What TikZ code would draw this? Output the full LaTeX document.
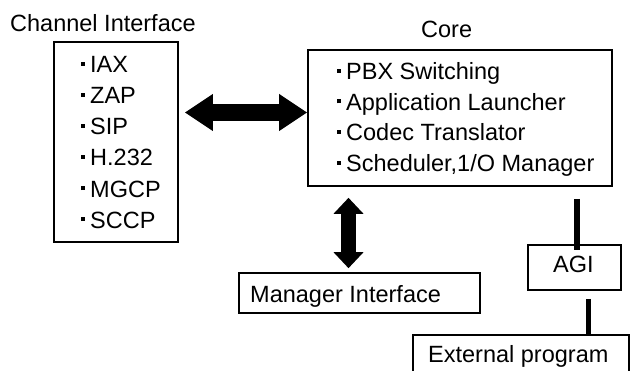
\documentclass[tikz,border=0pt]{standalone}
\usepackage{fontspec}
\setmainfont{Liberation Sans}
\usetikzlibrary{arrows.meta,calc}

% small square bullet in front of each list entry
\newcommand\sqbul{\rule[7pt]{4pt}{4pt}\hspace{5pt}}

\tikzset{
  box/.style={draw, line width=1.6pt, inner sep=0pt, rectangle},
  label/.style={anchor=base west, inner sep=0pt},
  fatarrow/.style={line width=#1},
  link/.style={line width=#1},
}

\begin{document}
\begin{tikzpicture}[x=1pt, y=-1pt, font=\fontsize{23.5}{28}\selectfont]
\useasboundingbox (0,0) rectangle (636,371);
\clip (0,0) rectangle (636,371);

% frames
\node[box, minimum width=124pt, minimum height=200pt] (chan) at (116,142) {};
\node[box, minimum width=304pt, minimum height=136pt] (core) at (460,118) {};
\node[box, minimum width=241pt, minimum height=40pt] (mgr) at (359.5,293) {};
\node[box, minimum width=93pt, minimum height=45pt] (agi) at (574.5,267.5) {};
\node[box, minimum width=216pt, minimum height=65pt] (ext) at (521,367.5) {};

% titles
\node[label] (chantitle) at (10,31.5) {Channel Interface};
\node[label] (coretitle) at (421,38) {Core};

% channel drivers
\node[label] (c1) at (81,73)  {\sqbul IAX};
\node[label] (c2) at (81,104) {\sqbul ZAP};
\node[label] (c3) at (81,135) {\sqbul SIP};
\node[label] (c4) at (81,166) {\sqbul H.232};
\node[label] (c5) at (81,197) {\sqbul MGCP};
\node[label] (c6) at (81,228) {\sqbul SCCP};

% core functions
\node[label] (k1) at (337,80)  {\sqbul PBX Switching};
\node[label] (k2) at (337,110.5) {\sqbul Application Launcher};
\node[label] (k3) at (337,141) {\sqbul Codec Translator};
\node[label] (k4) at (337,172) {\sqbul Scheduler,1/O Manager};

% other labels
\node[label] (mgrtext) at (250,302) {Manager Interface};
\node[label] (agitext) at (553,272) {AGI};
\node[label] (exttext) at (428,362) {External program};

% channel <-> core
\draw[fatarrow=17pt, {Triangle[width=35pt,length=28pt]}-{Triangle[width=35pt,length=28pt]}]
  ($(chan.east |- 0,112.5)+(6,0)$) -- (core.west |- 0,112.5);

% core <-> manager
\draw[fatarrow=15pt, {Triangle[width=29pt,length=16pt]}-{Triangle[width=29pt,length=16pt]}]
  ($(core.south -| 348.5,0)+(0,11)$) -- ($(mgr.north -| 348.5,0)+(0,-4)$);

% core - AGI - external program
\draw[link=6pt] ($(core.south -| 577,0)+(0,12)$) -- ($(agi.north -| 577,0)+(0,6)$);
\draw[link=5pt] ($(agi.south -| 588,0)+(0,8)$) -- (ext.north -| 588,0);
\end{tikzpicture}
\end{document}
